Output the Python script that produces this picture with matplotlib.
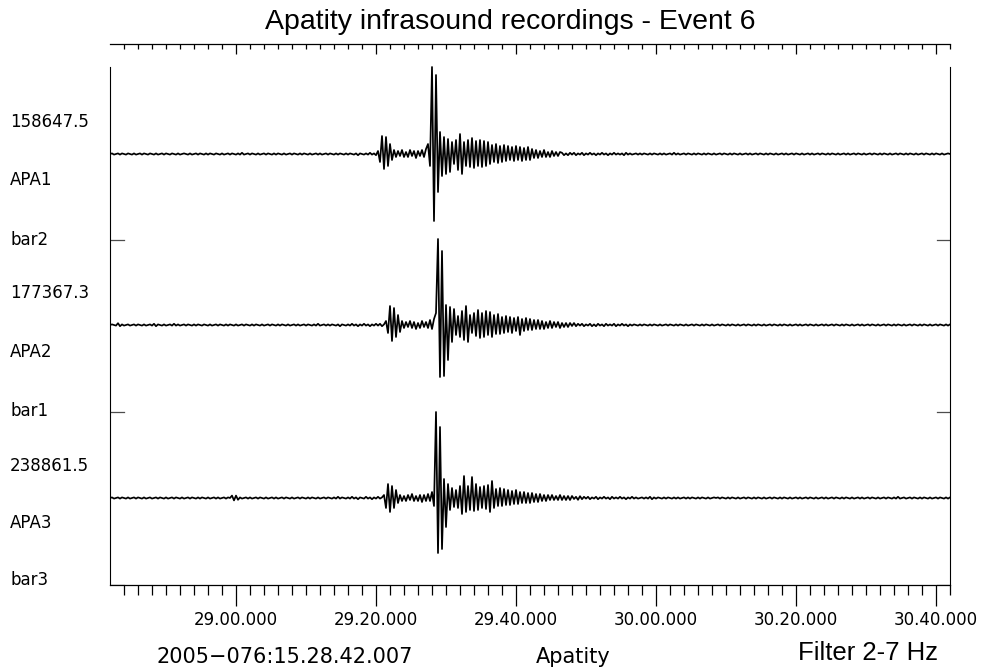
import numpy as np
import matplotlib
matplotlib.use("Agg")
import matplotlib.pyplot as plt
from matplotlib.ticker import FixedLocator

# record start 2005-076 15:28:42.007, traces digitised every 2/7 s
start_sec = 42.007
DT = 2 / 7
duration = 120.0
# background noise before/after the event was read in 0.6-unit steps
noise_unit = 0.6

title = "Apatity infrasound recordings - Event 6"
tick_labels = ["29.00.000", "29.20.000", "29.40.000", "30.00.000", "30.20.000", "30.40.000"]
station_names = ["APA1", "APA2", "APA3"]
scale_labels = ["158647.5", "177367.3", "238861.5"]
bar_labels = ["bar2", "bar1", "bar3"]
date_text = "2005\u2212076:15.28.42.007"
site_text = "Apatity"
filter_text = "Filter 2-7 Hz"

# ---- APA1 ----
apa1_pre = [
    0, 1, -1, 0, 1, -1, 1, 0, -1, 1,
    0, -1, 1, -1, 0, 1, -1, 1, 0, -1,
    1, 0, -1, 1, -1, 0, 1, -1, 1, 0,
    -1, 1, 0, -1, 1, -1, 0, 1, 0, -1,
    1, -1, 0, 1, -1, 1, 0, -1, 1, -1,
    1, 0, -1, 1, 0, -1, 1, -1, 0, 1,
    -1, 1, 0, -1, 1, -1, 2, -1, 0, 1,
    -1, 1, 0, -1, 1, -1, 0, 1, -1, 1,
    0, -1, 1, -1, 1, 0, -1, 1, -1, 0,
    1, -1, 1, 0, -1, 1, -1, 1, 0, -1,
    1, -1, 0, 1, -1, 1, -1, 0, 1, -1,
    1, 0, -1, 1, -1, 1, 0, -1, 1, -1,
    1, 0, -1, 1, -2, 1, 0, -1, 1, -1,
    2, -1, 1, -2,
]
apa1_event = [
    3, -8, 18, -15, 17, -12, 10, -6,
    4, -3, 3, -2, 4, -3, 2, -3, 4, -2, 3, -4, 3, -2, 4, -3, 5,
    10, -12, 87, -67, 79, -38, 22,
    -22, 17, -20, 15, -18, 12, -10, 14, -16, 20,
    -20, 12, -12, 14, -13, 16, -14, 13, -12, 14,
    -13, 13, -12, 12, -10, 9, -8, 10, -9, 8,
    -8, 9, -7, 8, -6, 7, -7, 8, -6, 7,
    -7, 6, -6, 7, -6, 5, -4, 4, -4, 3,
    -3, 4, -3, 2, -3, 3, -2, 2, -2, 2,
]
apa1_post = [
    2, -2, 1, -2, 2, -1, 2, -2, 1, -1,
    2, -2, 1, -1, 2, -1, 1, -2, 1, -1,
    2, -1, 1, -2, 1, -1, 2, -1, 1, -1,
    1, -2, 2, -1, 1, -1, 0, 1, -1, 1,
    -1, 1, 0, -1, 1, -1, 1, 0, -1, 1,
    -1, 1, -1, 0, 1, -1, 2, -1, 1, -1,
    0, 1, -1, 1, 0, -1, 1, -1, 1, 0,
    -1, 1, -1, 1, 0, -1, 1, -1, 0, 1,
    -1, 1, 0, -1, 1, -1, 1, 0, -1, 1,
    -1, 0, 1, -1, 1, -1, 0, 1, -1, 1,
    0, -1, 1, -1, 1, 0, -1, 1, -1, 0,
    1, -1, 1, -1, 0, 1, -1, 1, 0, -1,
    1, -1, 0, 1, -1, 1, -1, 0, 1, -1,
    1, 0, -1, 1, -1, 1, 0, -1, 1, -1,
    0, 1, -1, 1, -1, 0, 1, -1, 1, 0,
    -1, 1, -1, 0, 1, -1, 1, 0, -1, 1,
    -1, 1, 0, -1, 1, -1, 0, 1, -1, 1,
    0, -1, 1, -1, 1, 0, -1, 1, -1, 0,
    1, -1, 1, 0, -1, 1, -1, 1, 0, -1,
    1, -1, 0, 1, 0,
]

# ---- APA2 ----
apa2_pre = [
    0, 1, 0, -1, 3, -2, 1, -1, 0, 1,
    -1, 0, 1, -1, 1, 0, -1, 1, -1, 0,
    1, -1, 2, -2, 1, 0, -1, 1, -1, 0,
    1, -1, 2, -1, 1, -1, 0, 1, -1, 1,
    0, -1, 1, -1, 1, 0, -1, 1, 0, -1,
    1, -1, 0, 1, -1, 1, 0, -1, 1, -1,
    1, 0, -1, 1, -1, 0, 1, -1, 1, 0,
    -1, 1, -1, 1, 0, -1, 1, -1, 0, 1,
    -1, 1, 0, -1, 1, -1, 1, 0, -1, 1,
    -1, 0, 1, -1, 1, -1, 0, 1, -1, 1,
    0, -1, 1, -1, 2, -1, 0, 1, -1, 1,
    -1, 1, 0, -1, 1, -2, 1, 0, -1, 1,
    -1, 2, -1, 1, -2, 1, -1, 2, -1, 1,
    -2, 1, -1, 2, -1, 2, -2, 1,
]
apa2_event = [
    4, -8, 19, -16, 17, -12, 10, -7, 4,
    -3, 3, -2, 4, -3, 3, -4, 2, -3, 4, -2, 3, -3, 5, -4, 6,
    12, 86, -52, 74, -51, 20,
    -35, 18, -17, 16, -10, 9, -12, 14, -15, 19,
    -17, 10, -8, 12, -11, 15, -13, 12, -12, 14,
    -10, 13, -12, 10, -9, 11, -9, 8, -8, 9,
    -7, 8, -8, 7, -6, 8, -10, 6, -6, 7,
    -5, 6, -5, 5, -4, 5, -4, 4, -4, 3,
    -3, 4, -3, 3, -2, 3, -3, 2, -2, 2,
    -2, 2, -1, 2,
]
apa2_post = [
    -2, 2, -1, 2, -2, 1, -1, 2, -2, 1,
    -2, 2, -1, 1, -2, 2, -1, 1, -1, 2,
    -2, 1, -1, 2, -1, 1, -2, 1, -1, 1,
    0, -1, 1, -1, 1, 0, -1, 1, -1, 1,
    0, -1, 1, -1, 0, 1, -1, 1, 0, -1,
    1, -1, 1, 0, -1, 1, -1, 0, 1, -1,
    1, 0, -1, 1, -1, 1, 0, -1, 1, -1,
    0, 1, -1, 1, 0, -1, 1, -1, 1, 0,
    -1, 1, -1, 0, 1, -1, 1, 0, -1, 1,
    -1, 1, 0, -1, 1, -1, 0, 1, -1, 1,
    0, -1, 1, -1, 1, 0, -1, 1, -1, 0,
    1, -1, 1, -1, 0, 1, -1, 1, 0, -1,
    1, -1, 0, 1, -1, 1, -1, 0, 1, -1,
    1, 0, -1, 1, -1, 1, 0, -1, 1, -1,
    0, 1, -1, 1, -1, 0, 1, -1, 1, 0,
    -1, 1, -1, 0, 1, -1, 1, 0, -1, 1,
    -1, 1, 0, -1, 1, -1, 0, 1, -1, 1,
    0, -1, 1, -1, 1, 0, -1, 1, -1, 0,
    1, -1, 1, 0, -1, 1, -1, 1,
]

# ---- APA3 ----
apa3_pre = [
    0, 1, -1, 0, 1, -1, 1, 0, -1, 1,
    -1, 0, 1, -1, 1, 0, -1, 1, -1, 0,
    1, -1, 0, 1, -1, 1, 0, -1, 1, -1,
    0, 1, -1, 1, 0, -1, 1, -1, 0, 1,
    -1, 1, 0, -1, 1, -1, 1, 0, -1, 1,
    -1, 0, 1, -1, 1, -1, 0, 1, -1, 1,
    0, 4, -4, 4, -3, 1, -1, 0, 1, -1,
    1, -1, 0, 1, -1, 1, 0, -1, 1, -1,
    0, 1, -1, 1, -1, 0, 1, -1, 1, 0,
    -1, 1, -1, 0, 1, -1, 1, 0, -1, 1,
    -1, 1, 0, -1, 1, -1, 0, 1, -1, 1,
    0, -1, 1, -1, 2, -1, 1, 0, -1, 1,
    -1, 2, -1, 1, -2, 1, 0, -1, 2, -1,
    1, -2, 1, -1, 2, -1, 1,
]
apa3_event = [
    3, -10, 14, -14, 12, -10, 8, -5,
    3, -3, 2, -3, 3, -2, 4, -3, 2, -3, 3, -4, 3, -3, 4, -3, 6,
    -8, 86, -55, 71, -51, 19, -29,
    14, -12, 10, -9, 8, -10, 12, -16, 22, -14,
    12, -12, 21, -13, 14, -12, 11, -10, 12, -11,
    13, -14, 17, -10, 9, -8, 10, -8, 9, -7,
    8, -7, 7, -6, 8, -6, 6, -5, 6, -5,
    5, -5, 5, -4, 4, -4, 4, -3, 3, -3,
    3, -2, 3, -2, 2, -2, 3, -2, 2, -2,
    2, -2, 2, -1,
]
apa3_post = [
    2, -3, 3, -2, 2, -1, 2, -2, 1, -1,
    2, -2, 1, -1, 2, -1, 1, -2, 2, -1,
    1, -1, 2, -1, 1, -2, 1, -1, 2, -1,
    1, -1, 0, 1, -1, 1, -1, 2, -2, 1,
    -1, 1, 0, -1, 1, -1, 1, 0, -1, 1,
    -1, 1, -1, 0, 1, -1, 1, -1, 1, 0,
    -1, 1, -1, 1, 0, -1, 1, -1, 0, 1,
    0, 1, -1, 1, 0, -1, 1, -1, 1, 0,
    -1, 1, -1, 0, 1, -1, 1, 0, -1, 1,
    -1, 1, 0, -1, 1, -1, 0, 1, -1, 1,
    0, -1, 1, -1, 1, 0, -1, 1, -1, 0,
    1, -1, 1, -1, 0, 1, -1, 1, 0, -1,
    1, -1, 0, 1, -1, 1, -1, 0, 1, -1,
    1, 0, -1, 1, -1, 1, 0, -1, 1, -1,
    0, 1, -1, 1, -1, 0, 1, -1, 1, 0,
    -1, 1, -1, 0, 1, -1, 1, 0, -1, 1,
    -1, 2, -1, 0, 1, -1, 0, 1, -1, 1,
    0, -1, 1, -1, 1, 0, -1, 1, -1, 0,
    1, -1, 1, 0, -1, 1, -1, 1,
]


def build_trace(pre, event, post):
    return np.concatenate([np.array(pre) * noise_unit, np.array(event, dtype=float),
                           np.array(post) * noise_unit])


traces = [build_trace(apa1_pre, apa1_event, apa1_post),
          build_trace(apa2_pre, apa2_event, apa2_post),
          build_trace(apa3_pre, apa3_event, apa3_post)]

# layout (y in pixel-like units from bottom ruler)
W, H = 985, 671
baselines = [431, 260, 87]
separators = [345, 173, 0]
label_rows = [(122, 180, 240), (293, 352, 411), (466, 523, 580)]

fig = plt.figure(figsize=(W / 100, H / 100), dpi=100)
ax = fig.add_axes([110 / W, 86 / H, 840 / W, 541 / H])
ax.set_xlim(0, duration)
ax.set_ylim(0, 541)

for amp, base in zip(traces, baselines):
    t = np.arange(len(amp)) * DT
    ax.plot(t, base + amp, color="black", lw=1.25)

for y in separators:
    ax.axhline(y, xmin=0, xmax=14 / 840, color="0.3", lw=0.9)
    ax.axhline(y, xmin=1 - 13 / 840, xmax=1, color="0.3", lw=0.9)

ax.spines["top"].set_visible(False)
for side in ("left", "right"):
    ax.spines[side].set_bounds(0, 518)
    ax.spines[side].set_linewidth(0.8)
ax.spines["bottom"].set_linewidth(0.9)
ax.set_yticks([])

first_major = 60 - start_sec
major_t = first_major + 20 * np.arange(len(tick_labels))
minor_t = np.arange(first_major % 2, duration + 0.01, 2)

ax.set_xticks(major_t)
ax.set_xticklabels(tick_labels)
ax.xaxis.set_minor_locator(FixedLocator(minor_t))
ax.tick_params(axis="x", which="major", direction="out", length=15, width=0.9,
               pad=4, labelsize=12)
ax.tick_params(axis="x", which="minor", direction="out", length=7, width=0.9)

sec = ax.secondary_xaxis("top")
sec.set_xticks(major_t)
sec.xaxis.set_minor_locator(FixedLocator(minor_t))
sec.tick_params(which="major", direction="in", length=7.5, width=0.9, labeltop=False)
sec.tick_params(which="minor", direction="in", length=3.3, width=0.9)
sec.spines["top"].set_linewidth(0.9)

for (ys, yn, yb), sc, nm, br in zip(label_rows, scale_labels, station_names, bar_labels):
    fig.text(10 / W, 1 - ys / H, sc, ha="left", va="center", fontsize=12)
    fig.text(10 / W, 1 - yn / H, nm, ha="left", va="center", fontsize=12)
    fig.text(10 / W, 1 - yb / H, br, ha="left", va="center", fontsize=12)

fig.text(510 / W, 1 - 22 / H, title, ha="center", va="center", fontsize=20.5,
         family="Liberation Sans")
fig.text(285 / W, 1 - 657 / H, date_text, ha="center", va="center", fontsize=15)
fig.text(573 / W, 1 - 657 / H, site_text, ha="center", va="center", fontsize=15)
fig.text(798 / W, 1 - 660 / H, filter_text, ha="left", va="baseline", fontsize=18.5,
         family="Liberation Sans")

fig.savefig("out.png", dpi=100)
